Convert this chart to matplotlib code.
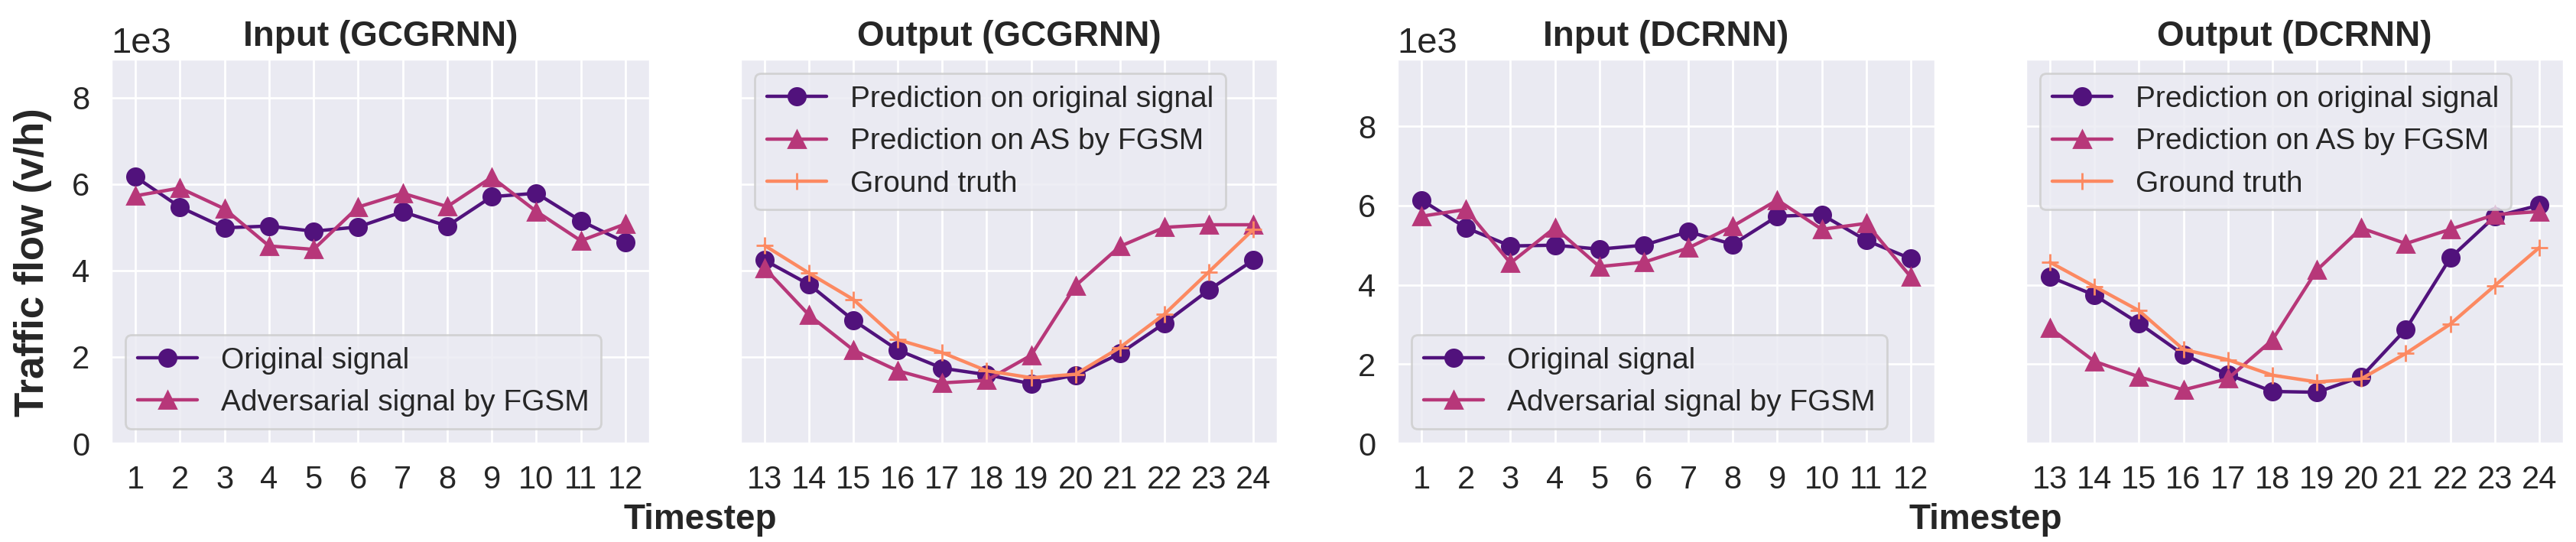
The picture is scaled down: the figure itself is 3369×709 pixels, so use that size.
import numpy as np
import matplotlib.pyplot as plt
import seaborn as sns

sns.set_theme(style="darkgrid")
plt.rcParams['font.family'] = ['Liberation Sans', 'DejaVu Sans']

# 数据 (v/h)
steps_in = list(range(1, 13))
steps_out = list(range(13, 25))

gc_orig = [6170, 5470, 4990, 5030, 4910, 5010, 5360, 5030, 5710, 5790, 5150, 4650]
gc_adv = [5730, 5910, 5430, 4570, 4490, 5470, 5790, 5480, 6160, 5370, 4690, 5080]
gc_pred = [4240, 3680, 2850, 2160, 1740, 1590, 1380, 1580, 2080, 2780, 3550, 4240]
gc_pred_adv = [4060, 2970, 2160, 1680, 1400, 1460, 2040, 3650, 4560, 5000, 5060, 5060]
gc_truth = [4580, 3940, 3330, 2400, 2100, 1680, 1520, 1600, 2220, 2990, 3970, 4950]

dc_orig = [6140, 5440, 4980, 5000, 4900, 5000, 5340, 5020, 5730, 5770, 5120, 4660]
dc_adv = [5730, 5900, 4550, 5440, 4460, 4570, 4930, 5480, 6140, 5400, 5550, 4200]
dc_pred = [4200, 3740, 3030, 2240, 1740, 1310, 1290, 1680, 2880, 4680, 5720, 6010]
dc_pred_adv = [2910, 2070, 1680, 1350, 1630, 2610, 4370, 5430, 5040, 5400, 5770, 5850]
dc_truth = [4570, 3960, 3350, 2370, 2110, 1720, 1550, 1630, 2270, 3010, 3980, 4940]

colors = sns.color_palette("magma", 3)

fig = plt.figure(figsize=(16.845, 3.545), dpi=200)
W, H = 3369, 709
def add_ax(left, right, top=77, bottom=580, sharey=None):
    return fig.add_axes([left / W, 1 - bottom / H, (right - left) / W, (bottom - top) / H], sharey=sharey)

ax0 = add_ax(145, 850)
ax1 = add_ax(968, 1671, sharey=ax0)
ax2 = add_ax(1827, 2531)
ax3 = add_ax(2649, 3353, sharey=ax2)

lw = 1.6
def plot_input(ax, orig, adv, title):
    ax.plot(steps_in, orig, marker='o', ms=8, lw=lw, color=colors[0], label='Original signal')
    ax.plot(steps_in, adv, marker='^', ms=8, lw=lw, color=colors[1], label='Adversarial signal by FGSM')
    ax.set_xticks(steps_in)
    ax.set_title(title, fontsize=16.5, fontweight='bold')
    ax.legend(loc='lower left', fontsize=14)

def plot_output(ax, pred, pred_adv, truth, title):
    ax.plot(steps_out, pred, marker='o', ms=8, lw=lw, color=colors[0], label='Prediction on original signal')
    ax.plot(steps_out, pred_adv, marker='^', ms=8, lw=lw, color=colors[1], label='Prediction on AS by FGSM')
    ax.plot(steps_out, truth, marker='+', ms=8, lw=lw, color=colors[2], label='Ground truth')
    ax.set_xticks(steps_out)
    ax.set_title(title, fontsize=16.5, fontweight='bold')
    ax.legend(loc='upper left', fontsize=14)
    plt.setp(ax.get_yticklabels(), visible=False)

plot_input(ax0, gc_orig, gc_adv, 'Input (GCGRNN)')
plot_output(ax1, gc_pred, gc_pred_adv, gc_truth, 'Output (GCGRNN)')
plot_input(ax2, dc_orig, dc_adv, 'Input (DCRNN)')
plot_output(ax3, dc_pred, dc_pred_adv, dc_truth, 'Output (DCRNN)')

ax0.set_ylim(0, 8900)
ax2.set_ylim(0, 9700)
for ax in (ax0, ax1, ax2, ax3):
    ax.set_yticks([0, 2000, 4000, 6000, 8000])
    ax.ticklabel_format(axis='y', style='sci', scilimits=(3, 3))
    ax.tick_params(labelsize=15, pad=10, length=0)
    ax.yaxis.get_offset_text().set_fontsize(17)
for ax in (ax1, ax3):
    ax.yaxis.get_offset_text().set_visible(False)

fig.text(43 / W, 1 - 343 / H, 'Traffic flow (v/h)', rotation=90, fontsize=19,
         fontweight='bold', ha='center', va='center')
fig.text(916 / W, 1 - 692 / H, 'Timestep', fontsize=16.5, fontweight='bold', ha='center', va='baseline')
fig.text(2597 / W, 1 - 692 / H, 'Timestep', fontsize=16.5, fontweight='bold', ha='center', va='baseline')

fig.savefig('out.png', dpi=200)
